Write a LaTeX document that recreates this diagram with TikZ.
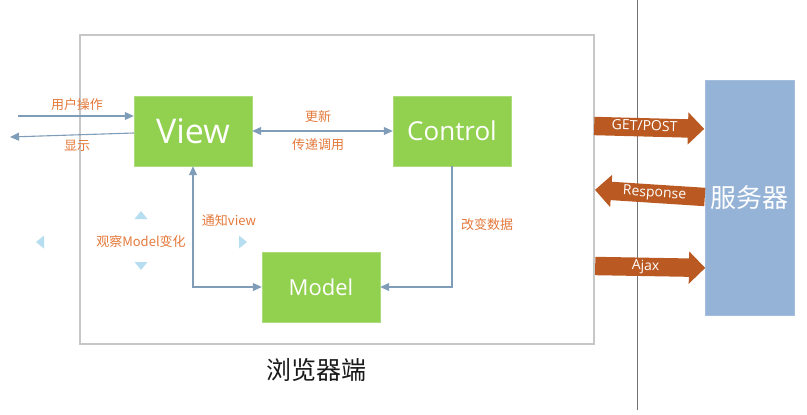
\documentclass[tikz,border=0pt]{standalone}
\usepackage{fontspec}
\setmainfont{Open Sans}
\newfontfamily\cjk{Noto Sans CJK SC}
\usetikzlibrary{arrows.meta,shapes.arrows}
\definecolor{vert}{RGB}{146,208,80}
\definecolor{bleuserveur}{RGB}{149,179,215}
\definecolor{brique}{RGB}{186,90,34}
\definecolor{trait}{RGB}{127,157,185}
\definecolor{orangetexte}{RGB}{228,120,58}
\definecolor{poignee}{RGB}{183,221,240}
\begin{document}
\begin{tikzpicture}
  [x=1pt, y=-1pt,
   >={Triangle[length=9pt,width=8pt]},
   bloc/.style={
    fill=vert,
    draw=vert!75!white,
    rectangle,
    minimum width=118pt,
    minimum height=70pt,
    inner sep=0pt,
    text=white},
   serveur/.style={
    fill=bleuserveur,
    draw=bleuserveur!85!white,
    rectangle,
    minimum width=89pt,
    minimum height=235pt,
    text=white,
    font=\cjk\fontsize{26}{26}\selectfont},
   lien/.style={
    draw=trait,
    line width=1.1pt},
   note/.style={
    text=orangetexte,
    inner sep=0pt,
    font=\cjk\fontsize{13}{13}\selectfont},
   fleche/.style={
    single arrow,
    fill=brique,
    text=white,
    single arrow head extend=7pt,
    minimum height=110pt,
    text height=9.5pt,
    text depth=3pt,
    inner ysep=2.75pt,
    font=\fontsize{14}{14}\selectfont}]

  \useasboundingbox (0,0) rectangle (807,415);

  % cadre du navigateur et separation
  \draw [draw=black!22, line width=1.8pt] (80,35) rectangle (594,344);
  \draw [draw=black!55, line width=0.9pt] (637,0) -- (637,410);

  \node [bloc, font=\fontsize{34}{34}\selectfont] at (193,131) (view) {View};
  \node [bloc, font=\fontsize{26}{26}\selectfont] at (452,131) (control) {Control};
  \node [bloc, font=\fontsize{22}{22}\selectfont] at (321,287) (model) {Model};
  \node [serveur] at (749.5,197.5) (serveur) {服务器};

  \node [font=\cjk\fontsize{25}{25}\selectfont, text=black!90] at (316,370) (navigateur) {浏览器端};

  % utilisateur
  \coordinate (utilisateur) at (18,116);
  \coordinate (ecran) at (10,137);
  \draw [lien, ->] (utilisateur) -- (utilisateur -| view.west);
  \draw [lien, ->] (view.west |- 0,133) -- (ecran);
  \node [note] at (77,105) (operation) {用户操作};
  \node [note] at (77,146) (affichage) {显示};

  % liens MVC
  \draw [lien, <->] (view.east) -- (control.west);
  \node [note] at (318,117) (maj) {更新};
  \node [note] at (318,145) (appel) {传递调用};
  \draw [lien, ->] (control.south) |- (model.east);
  \node [note] at (487,225) (changement) {改变数据};
  \draw [lien, <->] (model.west) -| (view.south);
  \node [note] at (229,221) (notification) {通知view};
  \node [note] at (141,242) (observation) {观察Model变化};

  % poignees de selection
  \fill [poignee] (134.5,219) -- (147.5,219) -- (141,211) -- cycle;
  \fill [poignee] (134.5,262) -- (147.5,262) -- (141,270) -- cycle;
  \fill [poignee] (44,235.5) -- (44,248.5) -- (36,242) -- cycle;
  \fill [poignee] (239,235.5) -- (239,248.5) -- (247,242) -- cycle;

  % echanges avec le serveur
  \node [fleche, anchor=tail, rotate=-1.5] at (594,126) (requete) {GET/POST};
  \node [fleche, anchor=tail, shape border rotate=180, rotate=-3.7] at (705,197) (reponse) {Response};
  \node [fleche, anchor=tail, rotate=-1] at (595,266) (ajax) {Ajax};
\end{tikzpicture}
\end{document}
